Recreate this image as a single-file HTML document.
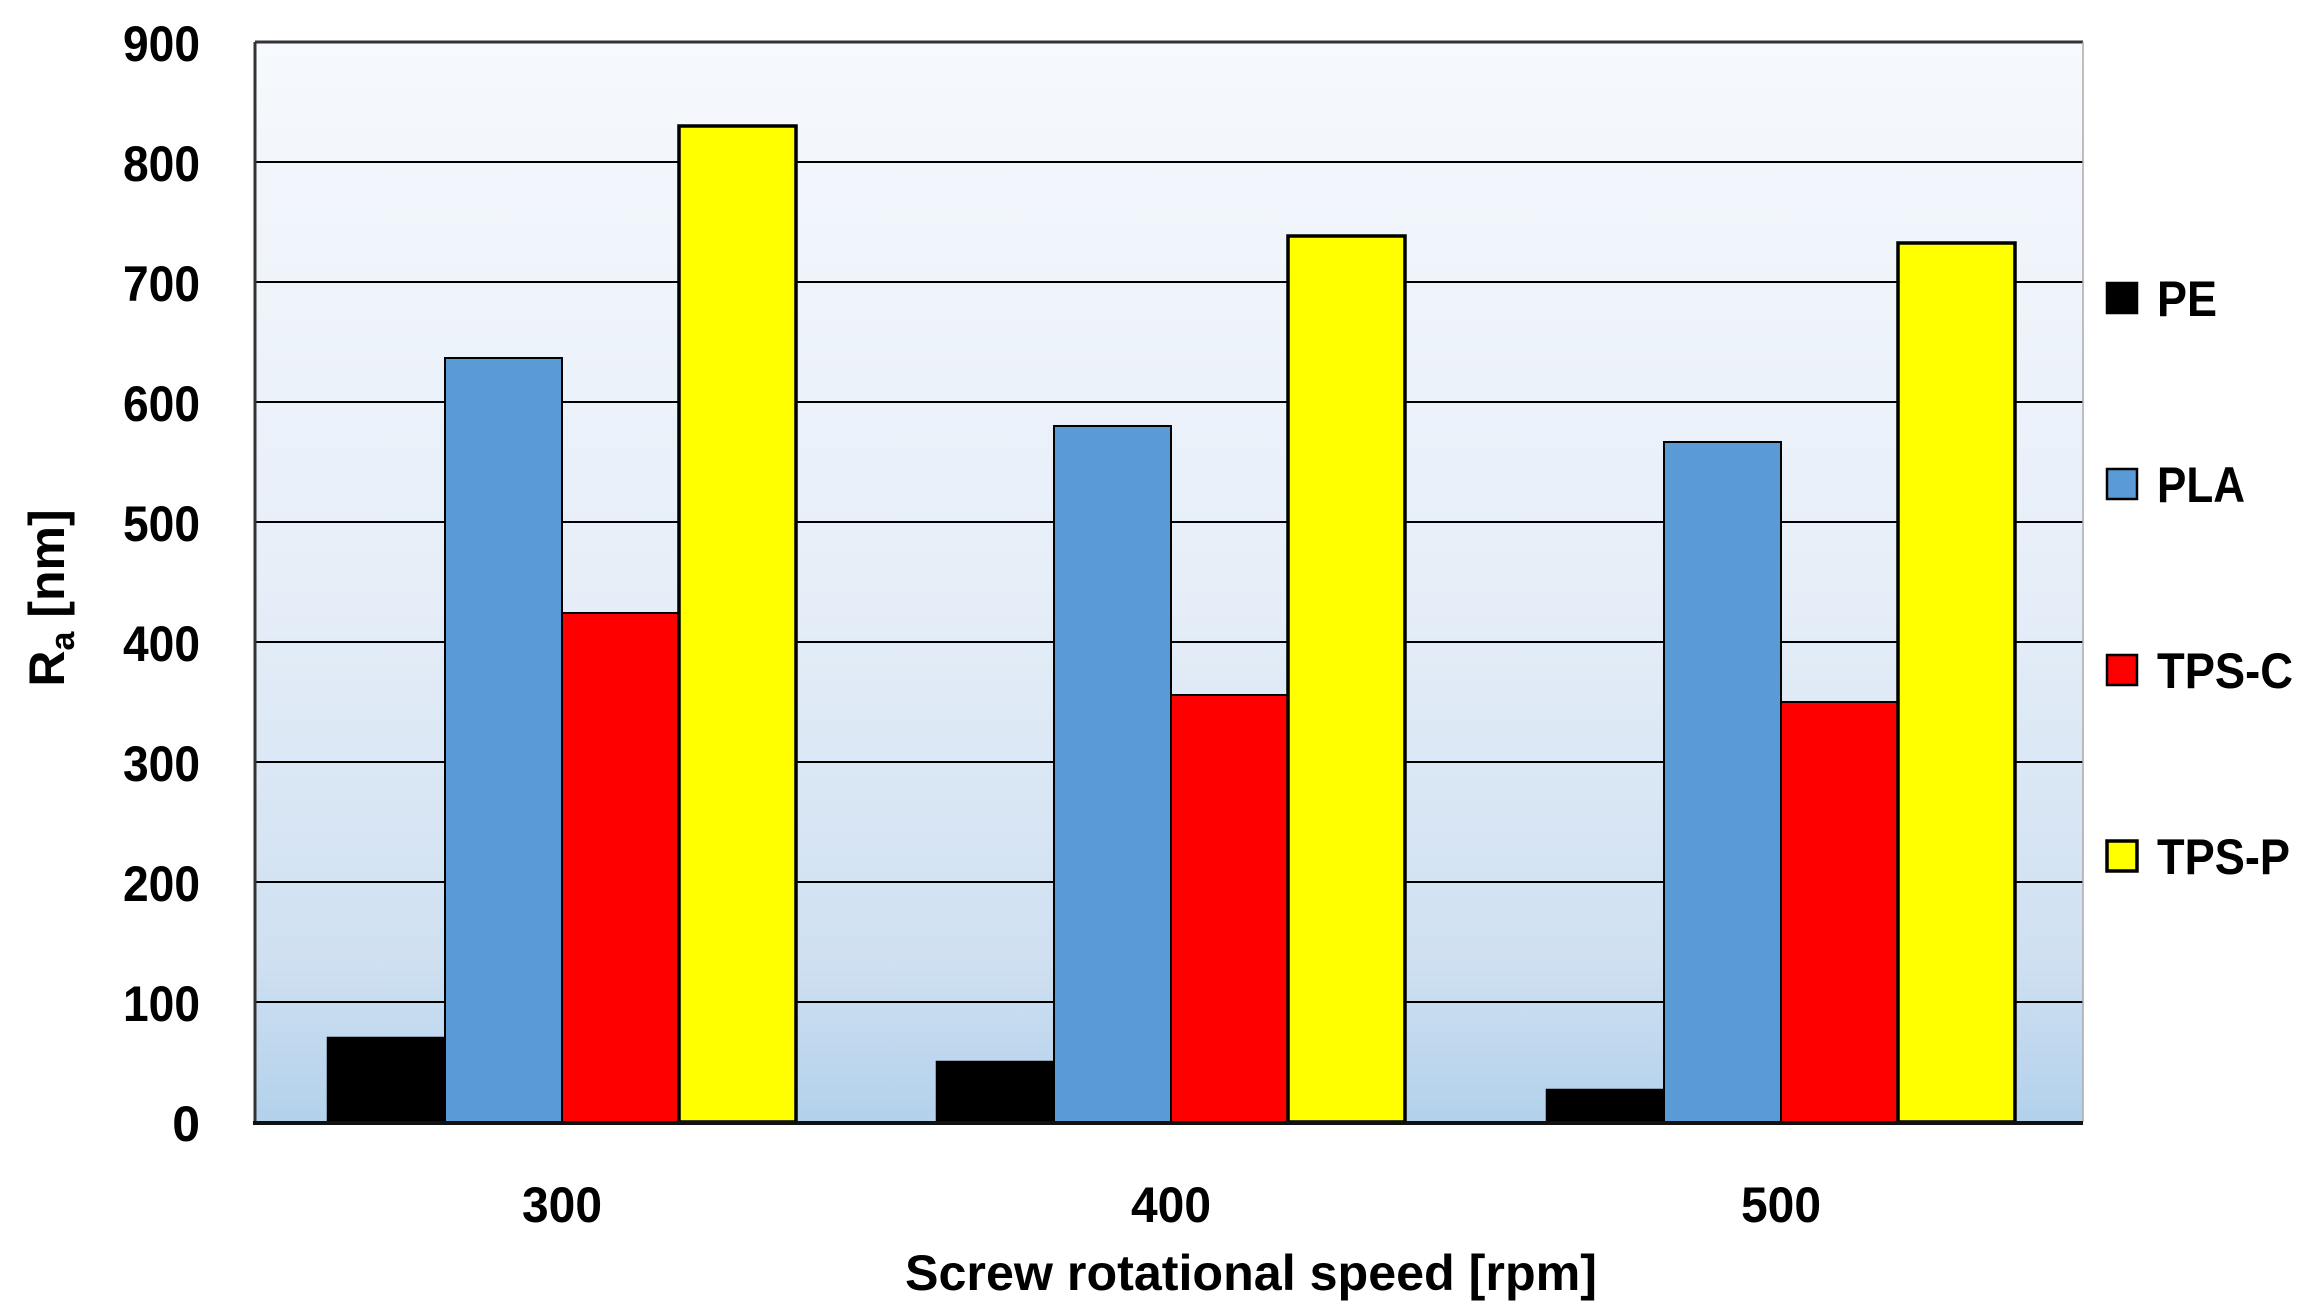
<!DOCTYPE html>
<html><head><meta charset="utf-8"><style>
html,body{margin:0;padding:0;background:#fff;}
svg{display:block;}
text{font-family:"Liberation Sans",sans-serif;font-weight:bold;fill:#000;}
</style></head><body>
<svg width="2312" height="1316" viewBox="0 0 2312 1316" xmlns="http://www.w3.org/2000/svg">
<defs>
<linearGradient id="bg" x1="0" y1="0" x2="0" y2="1">
<stop offset="0" stop-color="#f6f9fd"/>
<stop offset="0.5" stop-color="#e6eef8"/>
<stop offset="0.85" stop-color="#cfe0f1"/>
<stop offset="1" stop-color="#b3d1ec"/>
</linearGradient>
</defs>
<rect x="255" y="42" width="1828" height="1080" fill="url(#bg)"/>
<g stroke="#000" stroke-width="2">
<line x1="255" x2="2083" y1="162" y2="162"/>
<line x1="255" x2="2083" y1="282" y2="282"/>
<line x1="255" x2="2083" y1="402" y2="402"/>
<line x1="255" x2="2083" y1="522" y2="522"/>
<line x1="255" x2="2083" y1="642" y2="642"/>
<line x1="255" x2="2083" y1="762" y2="762"/>
<line x1="255" x2="2083" y1="882" y2="882"/>
<line x1="255" x2="2083" y1="1002" y2="1002"/>
</g>
<line x1="255" x2="2083" y1="42" y2="42" stroke="#333" stroke-width="3"/>
<line x1="255" x2="255" y1="42" y2="1122" stroke="#333" stroke-width="3"/>
<line x1="2083" x2="2083" y1="42" y2="1122" stroke="#aaa" stroke-width="1.5"/>
<g stroke="#000" stroke-width="2.5">
<rect x="328" y="1038" width="117" height="84" fill="#000"/>
<rect x="445" y="358" width="117" height="764" fill="#5b9bd5" stroke-width="2"/>
<rect x="562" y="613" width="117" height="509" fill="#ff0000" stroke-width="2"/>
<rect x="679" y="126" width="117" height="996" fill="#ffff00" stroke-width="3.5"/>
<rect x="937" y="1062" width="117" height="60" fill="#000"/>
<rect x="1054" y="426" width="117" height="696" fill="#5b9bd5" stroke-width="2"/>
<rect x="1171" y="695" width="117" height="427" fill="#ff0000" stroke-width="2"/>
<rect x="1288" y="236" width="117" height="886" fill="#ffff00" stroke-width="3.5"/>
<rect x="1547" y="1090" width="117" height="32" fill="#000"/>
<rect x="1664" y="442" width="117" height="680" fill="#5b9bd5" stroke-width="2"/>
<rect x="1781" y="702" width="117" height="420" fill="#ff0000" stroke-width="2"/>
<rect x="1898" y="243" width="117" height="879" fill="#ffff00" stroke-width="3.5"/>
</g>
<line x1="253" x2="2083" y1="1123" y2="1123" stroke="#111" stroke-width="4"/>
<g font-size="50" text-anchor="end">
<text x="200" y="61" textLength="77" lengthAdjust="spacingAndGlyphs">900</text>
<text x="200" y="181" textLength="77" lengthAdjust="spacingAndGlyphs">800</text>
<text x="200" y="301" textLength="77" lengthAdjust="spacingAndGlyphs">700</text>
<text x="200" y="421" textLength="77" lengthAdjust="spacingAndGlyphs">600</text>
<text x="200" y="541" textLength="77" lengthAdjust="spacingAndGlyphs">500</text>
<text x="200" y="661" textLength="77" lengthAdjust="spacingAndGlyphs">400</text>
<text x="200" y="781" textLength="77" lengthAdjust="spacingAndGlyphs">300</text>
<text x="200" y="901" textLength="77" lengthAdjust="spacingAndGlyphs">200</text>
<text x="200" y="1021" textLength="77" lengthAdjust="spacingAndGlyphs">100</text>
<text x="200" y="1141">0</text>
</g>
<g font-size="50" text-anchor="middle">
<text x="562" y="1222" textLength="80" lengthAdjust="spacingAndGlyphs">300</text>
<text x="1171" y="1222" textLength="80" lengthAdjust="spacingAndGlyphs">400</text>
<text x="1781" y="1222" textLength="80" lengthAdjust="spacingAndGlyphs">500</text>
</g>
<text x="1251" y="1290" font-size="50" text-anchor="middle" textLength="692" lengthAdjust="spacingAndGlyphs">Screw rotational speed [rpm]</text>
<text transform="translate(64,598) rotate(-90)" font-size="50" text-anchor="middle">R<tspan font-size="34" dy="10">a</tspan><tspan dy="-10"> [nm]</tspan></text>
<g stroke="#000" stroke-width="2.5">
<rect x="2107" y="283" width="30" height="30" fill="#000"/>
<rect x="2107" y="469" width="30" height="30" fill="#5b9bd5"/>
<rect x="2107" y="655" width="30" height="30" fill="#ff0000"/>
<rect x="2107" y="841" width="30" height="30" fill="#ffff00" stroke-width="3.5"/>
</g>
<g font-size="50">
<text x="2157" y="316" textLength="60" lengthAdjust="spacingAndGlyphs">PE</text>
<text x="2157" y="502" textLength="88" lengthAdjust="spacingAndGlyphs">PLA</text>
<text x="2157" y="688" textLength="136" lengthAdjust="spacingAndGlyphs">TPS-C</text>
<text x="2157" y="874" textLength="133" lengthAdjust="spacingAndGlyphs">TPS-P</text>
</g>
</svg>
</body></html>
